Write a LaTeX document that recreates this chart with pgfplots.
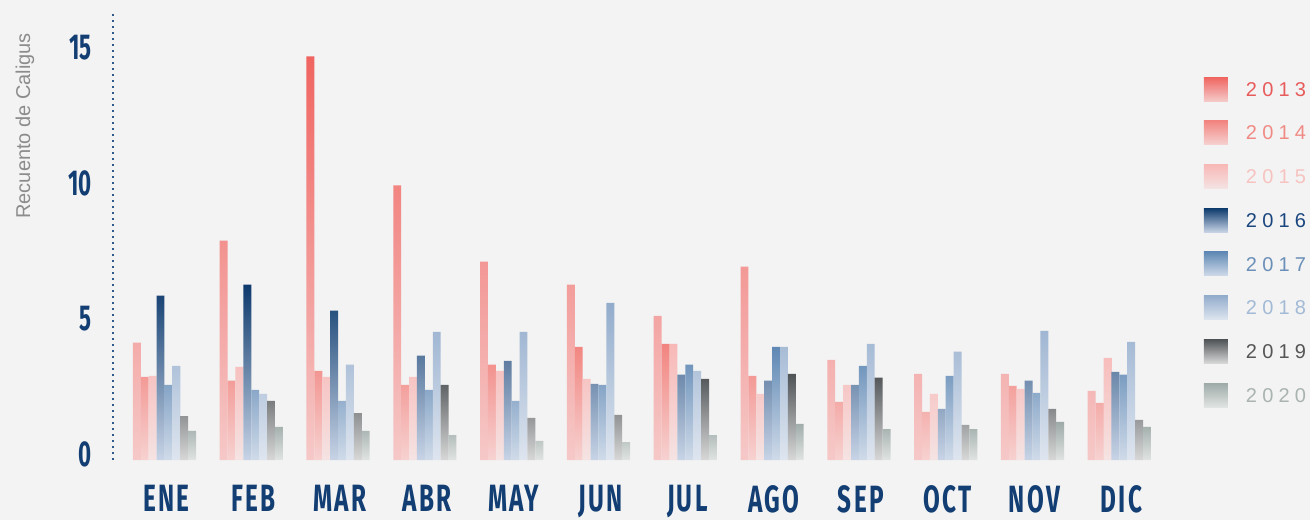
\documentclass[border=0pt]{standalone}
\usepackage{fontspec}
\usepackage{pgfplots}
\pgfplotsset{compat=1.18}
\setmainfont{Liberation Sans}
\newfontfamily\condfont[FakeStretch=0.62]{Fira Sans}
\newfontfamily\xfont[FakeStretch=0.64, LetterSpace=6]{Fira Sans}
\newfontfamily\legfont[LetterSpace=26]{Liberation Sans}
\definecolor{bgc}{HTML}{F3F3F3}
\definecolor{navyt}{HTML}{123E73}
\definecolor{navyl}{HTML}{2E5A8C}
\definecolor{c13t}{HTML}{F06460}\definecolor{c13b}{HTML}{F5C9C8}
\definecolor{c14t}{HTML}{F2847F}\definecolor{c14b}{HTML}{F6D2D1}
\definecolor{c15t}{HTML}{F7B8B6}\definecolor{c15b}{HTML}{F5E3E3}
\definecolor{c16t}{HTML}{0D3A6D}\definecolor{c16b}{HTML}{C8D4E6}
\definecolor{c17t}{HTML}{5F88B4}\definecolor{c17b}{HTML}{D0DBE9}
\definecolor{c18t}{HTML}{92ACCC}\definecolor{c18b}{HTML}{DEE5EF}
\definecolor{c19t}{HTML}{4F5356}\definecolor{c19b}{HTML}{D8D8D8}
\definecolor{c20t}{HTML}{9DAAA7}\definecolor{c20b}{HTML}{E0E4E3}
\definecolor{l13}{HTML}{E85B5B}
\definecolor{l14}{HTML}{F08A85}
\definecolor{l15}{HTML}{F7C3C0}
\definecolor{l16}{HTML}{1A4680}
\definecolor{l17}{HTML}{6A8FB8}
\definecolor{l18}{HTML}{A3BAD6}
\definecolor{l19}{HTML}{555555}
\definecolor{l20}{HTML}{A9B3B0}
\pgfplotsset{gbar/.style 2 args={draw=none, top color=#1, bottom color=#2,
  legend image code/.code={\path[draw=none, top color=#1, bottom color=#2] (0pt,-2.4pt) rectangle (12pt,9.6pt);}}}
\begin{document}
\begin{tikzpicture}
\fill[bgc] (-56.5pt,-30pt) rectangle (598.5pt,230pt);
\begin{axis}[
  scale only axis, width=529.5pt, height=224pt,
  at={(0pt,0pt)}, anchor=south west,
  ybar=0pt, bar width=0.091,
  xmin=-0.593, xmax=11.607, ymin=0, ymax=16.5,
  xtick={0,...,11},
  xticklabels={ENE,FEB,MAR,ABR,MAY,JUN,JUL,AGO,SEP,OCT,NOV,DIC},
  ytick={0,5,10,15},
  axis line style={draw=none}, major tick length=0pt,
  /pgf/number format/assume math mode=true,
  xticklabel style={font=\xfont\bfseries\fontsize{19}{20}\selectfont, text=navyt, inner sep=0pt, anchor=north, yshift=-12.5pt, xshift=1pt},
  yticklabel style={font=\condfont\bfseries\fontsize{18}{19}\selectfont, text=navyt, inner sep=0pt, anchor=east, xshift=-10.5pt, yshift=2.75pt},
  ylabel={Recuento de Caligus},
  ylabel style={at={(rel axis cs:-0.0831,0.746)}, anchor=center, font=\fontsize{10}{12}\selectfont, text=black!45},
  legend style={at={(rel axis cs:1.0302,0.8549)}, anchor=north west, draw=none, fill=none,
    inner sep=0pt, outer sep=0pt, row sep=9.86pt, column sep=9pt,
    font=\legfont\fontsize{10}{12}\selectfont, nodes={inner sep=0pt, anchor=base west}},
  legend cell align=left,
  clip=false,
]
\addplot[gbar={c13t}{c13b}] coordinates {(0,4.32) (1,8.08) (2,14.87) (3,10.11) (4,7.31) (5,6.46) (6,5.31) (7,7.12) (8,3.69) (9,3.17) (10,3.17) (11,2.55)};
\addlegendentry{\textcolor{l13}{2013}}
\addplot[gbar={c14t}{c14b}] coordinates {(0,3.06) (1,2.92) (2,3.28) (3,2.77) (4,3.51) (5,4.17) (6,4.28) (7,3.10) (8,2.14) (9,1.77) (10,2.73) (11,2.10)};
\addlegendentry{\textcolor{l14}{2014}}
\addplot[gbar={c15t}{c15b}] coordinates {(0,3.10) (1,3.43) (2,3.06) (3,3.06) (4,3.28) (5,2.99) (6,4.28) (7,2.44) (8,2.77) (9,2.44) (10,2.62) (11,3.76)};
\addlegendentry{\textcolor{l15}{2015}}
\addplot[gbar={c16t}{c16b}] coordinates {(0,6.05) (1,6.46) (2,5.50) (3,3.84) (4,3.65) (5,2.80) (6,3.14) (7,2.92) (8,2.77) (9,1.88) (10,2.92) (11,3.25)};
\addlegendentry{\textcolor{l16}{2016}}
\addplot[gbar={c17t}{c17b}] coordinates {(0,2.77) (1,2.58) (2,2.18) (3,2.58) (4,2.18) (5,2.77) (6,3.51) (7,4.17) (8,3.47) (9,3.10) (10,2.47) (11,3.14)};
\addlegendentry{\textcolor{l17}{2017}}
\addplot[gbar={c18t}{c18b}] coordinates {(0,3.47) (1,2.44) (2,3.51) (3,4.72) (4,4.72) (5,5.79) (6,3.28) (7,4.17) (8,4.28) (9,3.99) (10,4.76) (11,4.35)};
\addlegendentry{\textcolor{l18}{2018}}
\addplot[gbar={c19t}{c19b}] coordinates {(0,1.62) (1,2.18) (2,1.73) (3,2.77) (4,1.55) (5,1.66) (6,2.99) (7,3.17) (8,3.03) (9,1.29) (10,1.88) (11,1.48)};
\addlegendentry{\textcolor{l19}{2019}}
\addplot[gbar={c20t}{c20b}] coordinates {(0,1.07) (1,1.22) (2,1.07) (3,0.92) (4,0.70) (5,0.66) (6,0.92) (7,1.33) (8,1.14) (9,1.14) (10,1.40) (11,1.22)};
\addlegendentry{\textcolor{l20}{2020}}
\draw[navyl, line width=1pt, dash pattern=on 1pt off 2pt] (rel axis cs:0,0) -- (rel axis cs:0,1);
\end{axis}
\pgfresetboundingbox
\path (-56.5pt,-30pt) rectangle (598.5pt,230pt);
\end{tikzpicture}
\end{document}
